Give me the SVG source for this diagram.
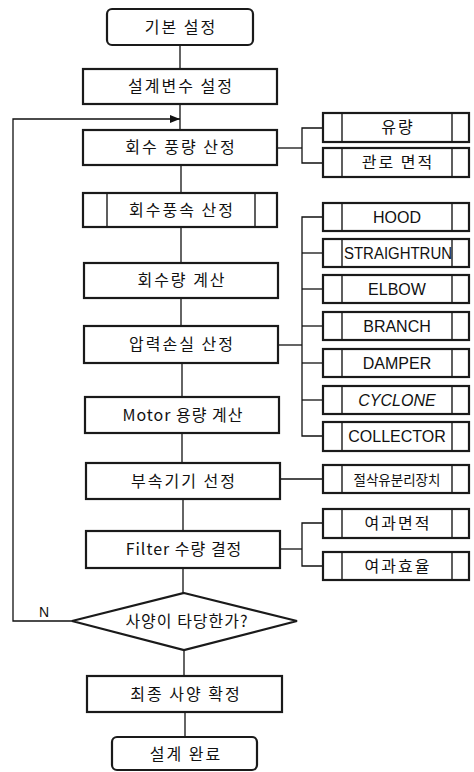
<svg xmlns="http://www.w3.org/2000/svg" width="474" height="772" viewBox="0 0 474 772">
<style>
.box{fill:#fff;stroke:#1a1a1a;stroke-width:2.2}
.sub{fill:#fff;stroke:#1a1a1a;stroke-width:2.2}
.in{stroke:#1a1a1a;stroke-width:1.4}
.ln{fill:none;stroke:#111;stroke-width:1.3}
.kt{font-family:"Noto Sans CJK KR","Noto Sans",sans-serif;font-size:16px;fill:#111;text-anchor:middle;letter-spacing:2px}
.et{font-family:"Liberation Sans",Arial,sans-serif;font-size:16px;fill:#111;text-anchor:middle}
</style>
<defs>
<marker id="arr" markerWidth="10" markerHeight="8" refX="10" refY="4" orient="auto" markerUnits="userSpaceOnUse">
<path d="M0,0 L10,4 L0,8 Z" fill="#111"/>
</marker>
</defs>
<g id="connectors">
<line class="ln" x1="180" y1="45" x2="180" y2="68"/>
<line class="ln" x1="180" y1="104" x2="180" y2="130"/>
<line class="ln" x1="181" y1="165" x2="181" y2="193"/>
<line class="ln" x1="181" y1="227" x2="181" y2="263"/>
<line class="ln" x1="181" y1="298" x2="181" y2="326"/>
<line class="ln" x1="182" y1="363" x2="182" y2="397"/>
<line class="ln" x1="182" y1="433" x2="182" y2="463"/>
<line class="ln" x1="183" y1="499" x2="183" y2="531"/>
<line class="ln" x1="183" y1="568" x2="183" y2="593"/>
<line class="ln" x1="184" y1="650" x2="184" y2="676"/>
<line class="ln" x1="185" y1="712" x2="185" y2="737"/>
<polyline class="ln" points="72,621 13,621 13,119 180,119" marker-end="url(#arr)"/>
<polyline class="ln" points="277,148 302,148"/>
<polyline class="ln" points="323,128 302,128 302,163 323,163"/>
<line class="ln" x1="277" y1="345" x2="302" y2="345"/>
<polyline class="ln" points="323,217 302,217 302,436 323,436"/>
<line class="ln" x1="302" y1="253" x2="323" y2="253"/>
<line class="ln" x1="302" y1="289" x2="323" y2="289"/>
<line class="ln" x1="302" y1="326" x2="323" y2="326"/>
<line class="ln" x1="302" y1="363" x2="323" y2="363"/>
<line class="ln" x1="302" y1="400" x2="323" y2="400"/>
<line class="ln" x1="277" y1="479" x2="323" y2="479"/>
<line class="ln" x1="277" y1="549" x2="302" y2="549"/>
<polyline class="ln" points="323,523 302,523 302,566 323,566"/>
<text x="44" y="617" class="et" style="font-size:14px">N</text>
</g>
<g id="start"><rect class="box" x="107" y="9" width="146" height="36" rx="5"/><text class="kt" x="181" y="33">기본 설정</text></g>
<g id="design-vars"><rect class="box" x="83" y="69" width="194" height="35"/><text class="kt" x="181" y="92">설계변수 설정</text></g>
<g id="flow-rate"><rect class="box" x="83" y="130" width="194" height="35"/><text class="kt" x="181" y="153">회수 풍량 산정</text></g>
<g id="velocity"><rect class="box" x="83" y="193" width="194" height="34"/><line class="in" x1="107" y1="193" x2="107" y2="227"/><line class="in" x1="255" y1="193" x2="255" y2="227"/><text class="kt" x="182" y="216">회수풍속 산정</text></g>
<g id="amount"><rect class="box" x="84" y="263" width="194" height="35"/><text class="kt" x="182" y="286">회수량 계산</text></g>
<g id="pressure"><rect class="box" x="84" y="326" width="194" height="37"/><text class="kt" x="182" y="350">압력손실 산정</text></g>
<g id="motor"><rect class="box" x="85" y="397" width="194" height="36"/><text class="kt" x="183" y="421" style="letter-spacing:1px">Motor 용량 계산</text></g>
<g id="accessory"><rect class="box" x="86" y="463" width="194" height="36"/><text class="kt" x="184" y="487">부속기기 선정</text></g>
<g id="filter"><rect class="box" x="86" y="531" width="194" height="37"/><text class="kt" x="184" y="555" style="letter-spacing:1px">Filter 수량 결정</text></g>
<g id="decision"><polygon class="box" points="184,593 297,621 184,650 72,621"/><text class="kt" x="187" y="627" style="letter-spacing:1px">사양이 타당한가?</text></g>
<g id="final"><rect class="box" x="87" y="676" width="195" height="36"/><text class="kt" x="186" y="700">최종 사양 확정</text></g>
<g id="end"><rect class="box" x="112" y="737" width="145" height="33" rx="5"/><text class="kt" x="186" y="760">설계 완료</text></g>
<g id="sub-flow"><rect class="sub" x="323" y="113" width="146" height="29"/><line class="in" x1="342" y1="113" x2="342" y2="142"/><line class="in" x1="452" y1="113" x2="452" y2="142"/><text class="kt" x="398" y="133">유량</text></g>
<g id="sub-area"><rect class="sub" x="323" y="148" width="146" height="29"/><line class="in" x1="342" y1="148" x2="342" y2="177"/><line class="in" x1="452" y1="148" x2="452" y2="177"/><text class="kt" x="398" y="168">관로 면적</text></g>
<g id="hood"><rect class="sub" x="323" y="203" width="146" height="28"/><line class="in" x1="342" y1="203" x2="342" y2="231"/><line class="in" x1="452" y1="203" x2="452" y2="231"/><text class="et" x="397" y="223">HOOD</text></g>
<g id="straight"><rect class="sub" x="323" y="239" width="146" height="28"/><line class="in" x1="342" y1="239" x2="342" y2="267"/><line class="in" x1="452" y1="239" x2="452" y2="267"/><text class="et" x="398" y="259" textLength="108" lengthAdjust="spacingAndGlyphs">STRAIGHTRUN</text></g>
<g id="elbow"><rect class="sub" x="323" y="275" width="146" height="28"/><line class="in" x1="342" y1="275" x2="342" y2="303"/><line class="in" x1="452" y1="275" x2="452" y2="303"/><text class="et" x="397" y="295">ELBOW</text></g>
<g id="branch"><rect class="sub" x="323" y="312" width="146" height="28"/><line class="in" x1="342" y1="312" x2="342" y2="340"/><line class="in" x1="452" y1="312" x2="452" y2="340"/><text class="et" x="397" y="332">BRANCH</text></g>
<g id="damper"><rect class="sub" x="323" y="349" width="146" height="28"/><line class="in" x1="342" y1="349" x2="342" y2="377"/><line class="in" x1="452" y1="349" x2="452" y2="377"/><text class="et" x="397" y="369">DAMPER</text></g>
<g id="cyclone"><rect class="sub" x="323" y="386" width="146" height="28"/><line class="in" x1="342" y1="386" x2="342" y2="414"/><line class="in" x1="452" y1="386" x2="452" y2="414"/><text class="et" x="397" y="406" style="font-style:italic">CYCLONE</text></g>
<g id="collector"><rect class="sub" x="323" y="422" width="146" height="29"/><line class="in" x1="342" y1="422" x2="342" y2="451"/><line class="in" x1="452" y1="422" x2="452" y2="451"/><text class="et" x="397" y="442">COLLECTOR</text></g>
<g id="separator"><rect class="sub" x="323" y="465" width="146" height="28"/><line class="in" x1="342" y1="465" x2="342" y2="493"/><line class="in" x1="452" y1="465" x2="452" y2="493"/><text class="kt" x="397" y="485" style="font-size:13.5px;letter-spacing:0px">절삭유분리장치</text></g>
<g id="filter-area"><rect class="sub" x="323" y="509" width="146" height="29"/><line class="in" x1="342" y1="509" x2="342" y2="538"/><line class="in" x1="452" y1="509" x2="452" y2="538"/><text class="kt" x="398" y="529">여과면적</text></g>
<g id="filter-eff"><rect class="sub" x="323" y="552" width="146" height="28"/><line class="in" x1="342" y1="552" x2="342" y2="580"/><line class="in" x1="452" y1="552" x2="452" y2="580"/><text class="kt" x="398" y="572">여과효율</text></g>
</svg>
